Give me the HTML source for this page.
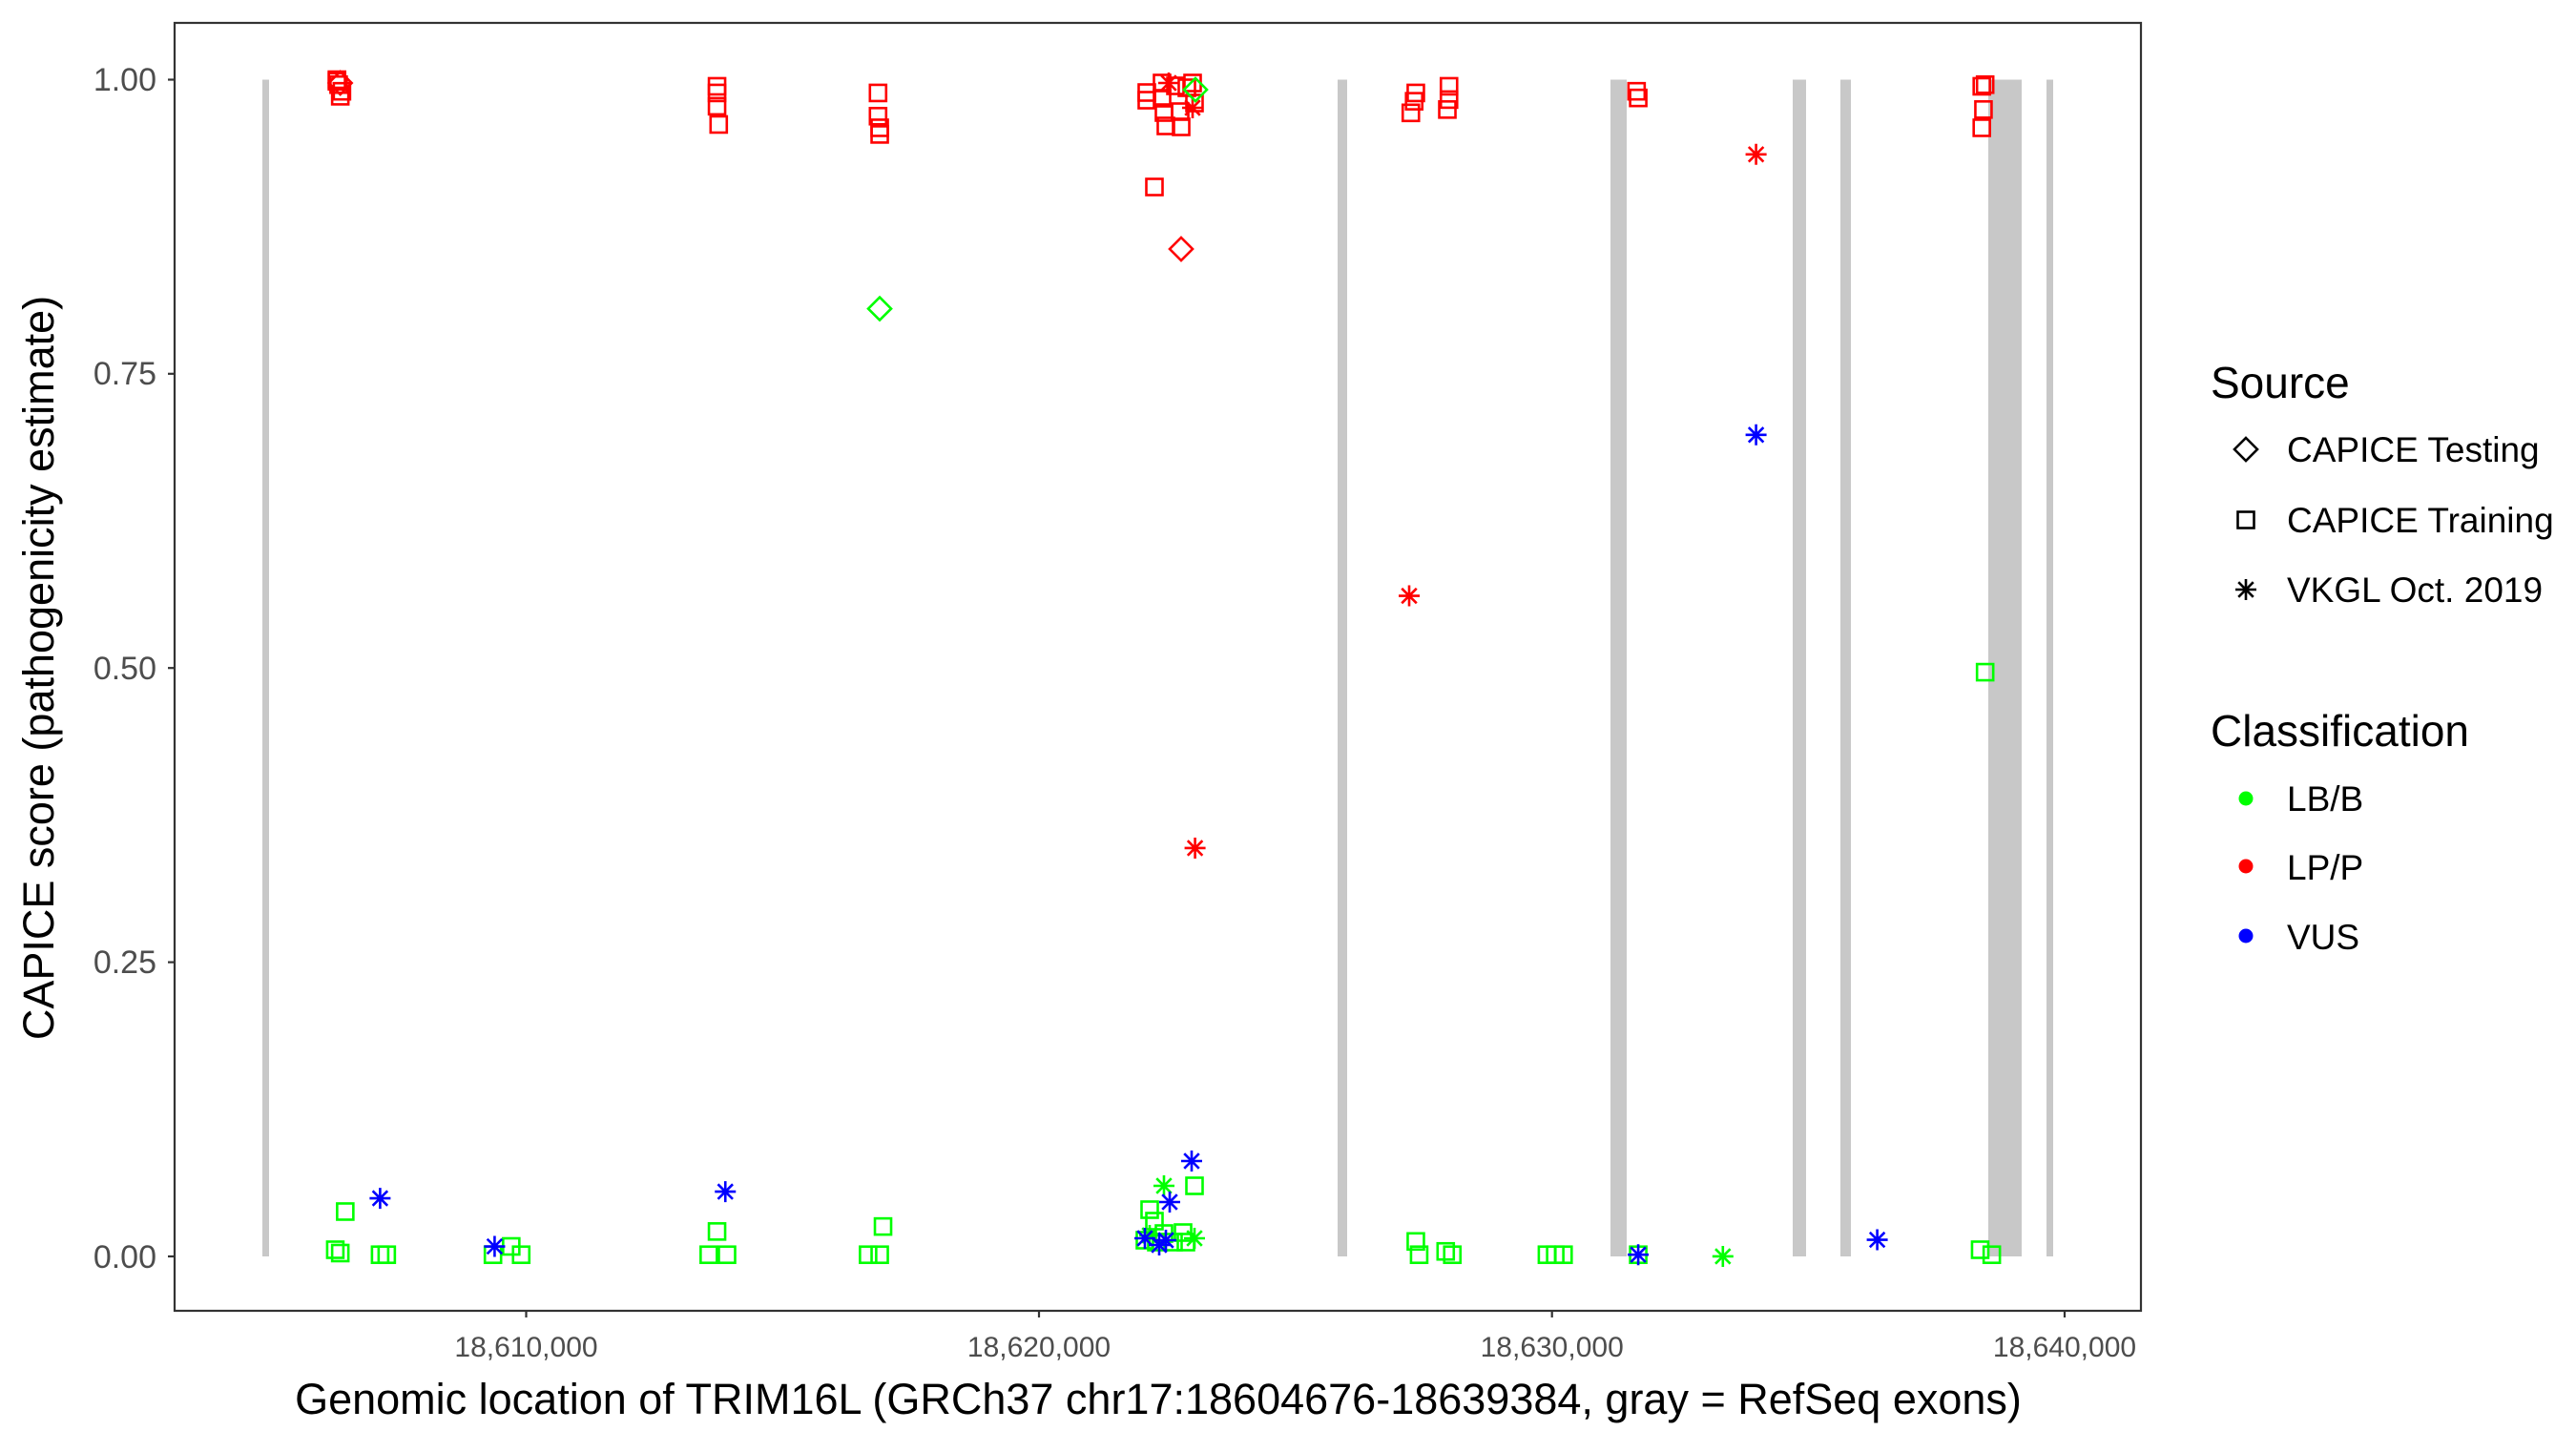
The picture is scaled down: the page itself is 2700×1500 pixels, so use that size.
<!DOCTYPE html>
<html><head><meta charset="utf-8"><style>
html,body{margin:0;padding:0;background:#fff}
svg{display:block}
text{font-family:"Liberation Sans",sans-serif}
</style></head><body>
<svg id="s" width="2700" height="1500" xmlns="http://www.w3.org/2000/svg">
<rect x="0" y="0" width="2700" height="1500" fill="#fff"/>
<g fill="#c8c8c8">
<rect x="275" y="83.5" width="7" height="1233.5"/>
<rect x="1402" y="83.5" width="10" height="1233.5"/>
<rect x="1688" y="83.5" width="17" height="1233.5"/>
<rect x="1879" y="83.5" width="14" height="1233.5"/>
<rect x="1929" y="83.5" width="11" height="1233.5"/>
<rect x="2084" y="83.5" width="35" height="1233.5"/>
<rect x="2145" y="83.5" width="7" height="1233.5"/>
</g>
<g id="pts"></g>
<rect x="183" y="24" width="2061" height="1350" fill="none" stroke="#333" stroke-width="2.2"/>
<g stroke="#333" stroke-width="2.2">
<line x1="176" x2="183" y1="83.5" y2="83.5"/><line x1="176" x2="183" y1="391.8" y2="391.8"/>
<line x1="176" x2="183" y1="700.2" y2="700.2"/><line x1="176" x2="183" y1="1008.6" y2="1008.6"/>
<line x1="176" x2="183" y1="1317" y2="1317"/>
<line x1="551.5" x2="551.5" y1="1374" y2="1381"/><line x1="1089" x2="1089" y1="1374" y2="1381"/>
<line x1="1626.7" x2="1626.7" y1="1374" y2="1381"/><line x1="2164" x2="2164" y1="1374" y2="1381"/>
</g>
<g fill="#4d4d4d" font-size="34" text-anchor="end">
<text x="164" y="95">1.00</text><text x="164" y="403">0.75</text><text x="164" y="712">0.50</text>
<text x="164" y="1020">0.25</text><text x="164" y="1329">0.00</text>
</g>
<g fill="#4d4d4d" font-size="30" text-anchor="middle">
<text x="551.5" y="1422">18,610,000</text><text x="1089" y="1422">18,620,000</text>
<text x="1626.7" y="1422">18,630,000</text><text x="2164" y="1422">18,640,000</text>
</g>
<text x="1214" y="1482" font-size="45" text-anchor="middle">Genomic location of TRIM16L (GRCh37 chr17:18604676-18639384, gray = RefSeq exons)</text>
<text transform="translate(56,700) rotate(-90)" font-size="45" text-anchor="middle">CAPICE score (pathogenicity estimate)</text>
<text x="2317" y="417" font-size="46">Source</text>
<text x="2397" y="484" font-size="37">CAPICE Testing</text>
<text x="2397" y="558" font-size="37">CAPICE Training</text>
<text x="2397" y="631" font-size="37">VKGL Oct. 2019</text>
<text x="2317" y="782" font-size="46">Classification</text>
<text x="2397" y="850" font-size="37">LB/B</text>
<text x="2397" y="922" font-size="37">LP/P</text>
<text x="2397" y="995" font-size="37">VUS</text>
<circle cx="2354" cy="837" r="7.5" fill="#00ff00"/>
<circle cx="2354" cy="908" r="7.5" fill="#ff0000"/>
<circle cx="2354" cy="981" r="7.5" fill="#0000ff"/>
<g id="leg"></g>
</svg>
<script>
var K=1.7397,NS="http://www.w3.org/2000/svg";
var C={g:"#00ff00",r:"#ff0000",b:"#0000ff",k:"#000"};
function mk(g,shape,x,y,col){
 var e;
 if(shape=="s"){e=document.createElementNS(NS,"rect");e.setAttribute("x",x-8.5);e.setAttribute("y",y-8.5);e.setAttribute("width",17);e.setAttribute("height",17);}
 else if(shape=="d"){e=document.createElementNS(NS,"polygon");var r=12;e.setAttribute("points",(x)+","+(y-r)+" "+(x+r)+","+y+" "+x+","+(y+r)+" "+(x-r)+","+y);}
 else {e=document.createElementNS(NS,"path");var r=11,d="";for(var i=0;i<4;i++){var a=i*Math.PI/4;d+="M"+(x-r*Math.sin(a))+" "+(y-r*Math.cos(a))+"L"+(x+r*Math.sin(a))+" "+(y+r*Math.cos(a));}e.setAttribute("d",d);}
 e.setAttribute("fill","none");e.setAttribute("stroke",C[col]);e.setAttribute("stroke-width","2.6");
 g.appendChild(e);
}
var P=[
["s",203,49,"r"],["s",204,51,"r"],["s",206,55,"r"],["s",205,58,"r"],["s",203,48,"r"],["d",205,50,"r"],
["s",432,52,"r"],["s",432,56,"r"],["s",432,64,"r"],["s",433,75,"r"],
["s",529,56,"r"],["s",529,70,"r"],["s",530,77,"r"],["s",530,81,"r"],
["s",850,68,"r"],["s",853,56,"r"],["s",852,61,"r"],["s",873,52,"r"],["s",872,66,"r"],["s",873,60,"r"],
["s",986,55,"r"],["s",987,59,"r"],["s",1194,52,"r"],["s",1195,66,"r"],["s",1194,77,"r"],["s",1196,51,"r"],
["a",849,359,"r"],["a",1058,93,"r"],["a",720,511,"r"],
["d",530,186,"g"],["a",1058,262,"b"],["s",1196,405,"g"],
["s",202,753,"g"],["s",205,755,"g"],["s",208,730,"g"],["s",229,756,"g"],["s",233,756,"g"],["s",297,756,"g"],["s",308,751,"g"],["s",314,756,"g"],["s",427,756,"g"],["s",432,742,"g"],["s",438,756,"g"],["s",523,756,"g"],["s",530,756,"g"],["s",532,739,"g"],["s",853,748,"g"],["s",855,756,"g"],["s",871,754,"g"],["s",875,756,"g"],["s",932,756,"g"],["s",937,756,"g"],["s",942,756,"g"],["s",987,756,"g"],["s",1193,753,"g"],["s",1200,756,"g"],
["a",1038,757,"g"],
["a",229,722,"b"],["a",437,718,"b"],["a",298,751,"b"],["a",1131,747,"b"],["a",987,756,"b"]
];
var R=[
["s",1202,97,"r"],["s",1202,105,"r"],["s",1218,87,"r"],["s",1218,103,"r"],["s",1220,118,"r"],["s",1222,132,"r"],["s",1238,133,"r"],["s",1237,117,"r"],["s",1232,90,"r"],["s",1250,87,"r"],["s",1252,108,"r"],["s",1244,92,"r"],
["a",1225,87,"r"],["a",1250,113,"r"],["d",1253,94,"g"],["s",1210,196,"r"],["d",1238,261,"r"],
["s",1252,1243,"g"],["s",1205,1268,"g"],["s",1200,1300,"g"],["s",1220,1293,"g"],["s",1240,1292,"g"],["s",1243,1302,"g"],["s",1210,1280,"g"],["s",1230,1302,"g"],["s",1212,1302,"g"],
["a",1220,1243,"g"],["a",1252,1298,"g"],["a",1205,1295,"g"],
["a",1249,1217,"b"],["a",1226,1260,"b"],["a",1222,1300,"b"],["a",1200,1298,"b"],["a",1215,1305,"b"]
];
var g=document.getElementById("pts");
P.forEach(function(p){mk(g,p[0],p[1]*K,p[2]*K,p[3]);});
R.forEach(function(p){mk(g,p[0],p[1],p[2],p[3]);});
var L=document.getElementById("leg");
mk(L,"d",2354,471,"k");mk(L,"s",2354,545,"k");mk(L,"a",2354,618,"k");
</script>
</body></html>
